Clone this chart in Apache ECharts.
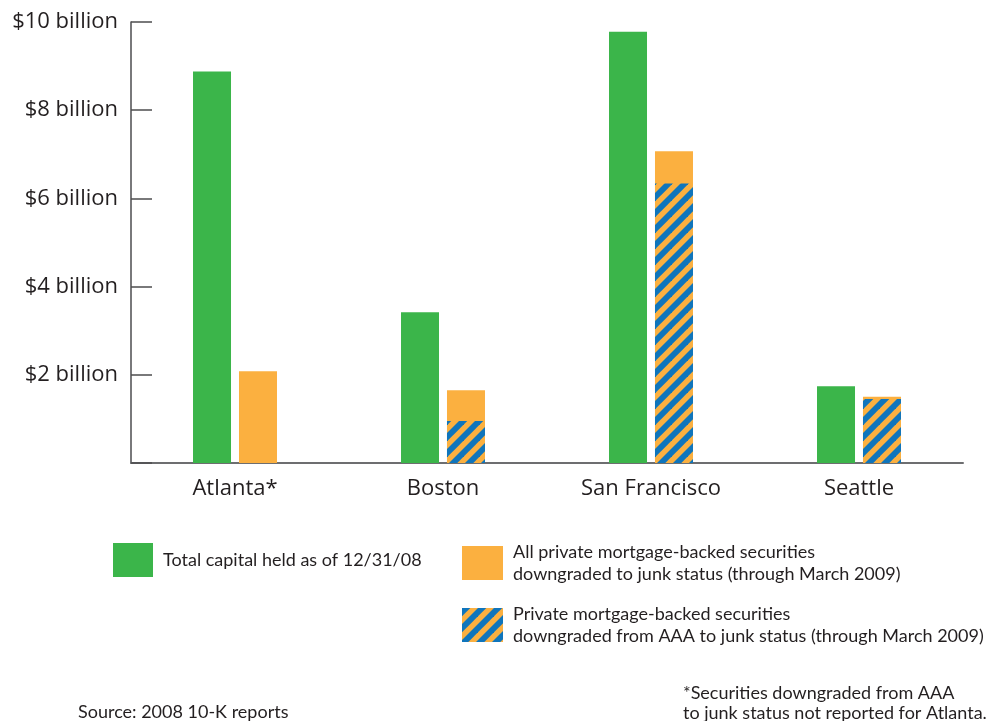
<!DOCTYPE html>
<html>
<head>
<meta charset="utf-8">
<script src="https://cdn.jsdelivr.net/npm/echarts@6/dist/echarts.min.js"></script>
<style>
  html, body { margin: 0; padding: 0; background: #ffffff; }
  #chart { width: 995px; height: 721px; }
</style>
</head>
<body>
<div id="chart"></div>
<script>
// Federal Home Loan Banks: capital vs. junk-rated private mortgage-backed securities ($ billions)
const banks = ['Atlanta*', 'Boston', 'San Francisco', 'Seattle'];
const totalCapital = [8.88, 3.42, 9.78, 1.74];
const allJunk = [2.08, 1.65, 7.07, 1.50];
const aaaToJunk = [null, 0.95, 6.34, 1.45];
const yTicks = [0, 2, 4, 6, 8, 10];

const GREEN = '#3bb54a';
const ORANGE = '#fbb040';
const BLUE = '#0f75bc';
const INK = '#231f20';

const nameCapital = 'Total capital held as of 12/31/08';
const nameAll = 'All private mortgage-backed securities\ndowngraded to junk status (through March 2009)';
const nameAaa = 'Private mortgage-backed securities\ndowngraded from AAA to junk status (through March 2009)';

// Diagonal blue/orange stripe tile: one blue band per tile, drawn as filled polygons
function stripeTile() {
  const s = 16;
  const w = s * 0.52;            // band width measured along the x axis
  const c = document.createElement('canvas');
  c.width = s; c.height = s;
  const g = c.getContext('2d');
  g.fillStyle = ORANGE;
  g.fillRect(0, 0, s, s);
  g.fillStyle = BLUE;
  for (let k = -1; k <= 1; k++) {
    const o = k * s;
    g.beginPath();
    g.moveTo(o, s);
    g.lineTo(o + s, 0);
    g.lineTo(o + s + w, 0);
    g.lineTo(o + w, s);
    g.closePath();
    g.fill();
  }
  return c;
}
const hatch = { image: stripeTile(), repeat: 'repeat' };

const chart = echarts.init(document.getElementById('chart'), null, { renderer: 'canvas' });

const legendText = { fontFamily: 'Lato', fontSize: 18, color: INK, lineHeight: 22, padding: [0, 0, 0, 5] };
const legendBase = { icon: 'rect', padding: 0, itemHeight: 34, textStyle: legendText, selectedMode: false };

chart.setOption({
  animation: false,
  backgroundColor: '#ffffff',
  grid: { left: 131, top: 22, width: 832, bottom: 258, containLabel: false },
  xAxis: [
    {
      type: 'category',
      data: banks,
      axisLine: { lineStyle: { color: '#6d6e70', width: 2 } },
      axisTick: { show: false },
      axisLabel: { fontFamily: 'Open Sans', fontSize: 22, color: INK, margin: 15 }
    },
    {
      type: 'category',
      data: banks,
      show: false
    }
  ],
  yAxis: {
    type: 'value',
    min: yTicks[0],
    max: yTicks[yTicks.length - 1],
    interval: 2,
    axisLine: { show: true, lineStyle: { color: '#4d4d4f', width: 1.5 } },
    axisTick: { show: true, inside: true, length: 21, lineStyle: { color: '#4d4d4f', width: 1.5 } },
    splitLine: { show: false },
    axisLabel: {
      fontFamily: 'Open Sans', fontSize: 22, color: INK, margin: 13,
      formatter: v => (v === 0 ? '' : '$' + v + ' billion')
    }
  },
  legend: [
    Object.assign({ data: [nameCapital], left: 113, top: 543, itemWidth: 40 }, legendBase),
    Object.assign({ data: [nameAll], left: 462, top: 541, itemWidth: 41 }, legendBase),
    Object.assign({ data: [nameAaa], left: 462, top: 603, itemWidth: 41 }, legendBase)
  ],
  series: [
    {
      name: nameCapital, type: 'bar', xAxisIndex: 0,
      data: totalCapital, barWidth: 38, barGap: '21%',
      itemStyle: { color: GREEN }
    },
    {
      name: nameAll, type: 'bar', xAxisIndex: 0,
      data: allJunk, barWidth: 38, barGap: '21%',
      itemStyle: { color: ORANGE }
    },
    // empty slot on the overlay axis so the striped bars sit over the orange ones
    {
      name: 'slot', type: 'bar', xAxisIndex: 1,
      data: banks.map(() => '-'), barWidth: 38, barGap: '21%',
      itemStyle: { color: 'transparent' }
    },
    {
      name: nameAaa, type: 'bar', xAxisIndex: 1,
      data: aaaToJunk, barWidth: 38, barGap: '21%',
      itemStyle: { color: hatch }
    }
  ],
  graphic: [
    {
      type: 'text', left: 78, top: 703,
      style: { text: 'Source: 2008 10-K reports', fontFamily: 'Lato', fontSize: 18, fill: INK }
    },
    {
      type: 'text', left: 683, top: 683,
      style: {
        text: '*Securities downgraded from AAA\nto junk status not reported for Atlanta.',
        fontFamily: 'Lato', fontSize: 18, lineHeight: 20, fill: INK
      }
    }
  ]
});
</script>
</body>
</html>
